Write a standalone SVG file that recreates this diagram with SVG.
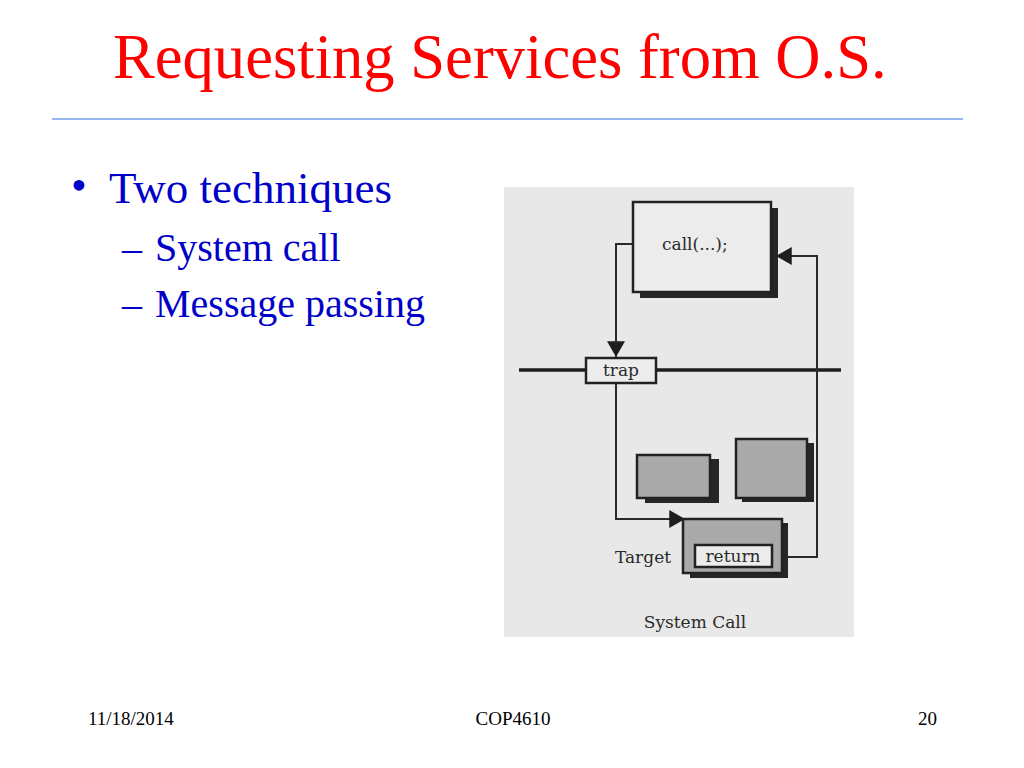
<svg xmlns="http://www.w3.org/2000/svg" width="1024" height="768" viewBox="0 0 1024 768">
<style>
.title{font-family:"Liberation Serif","Times New Roman",serif;font-size:62.6px;fill:#ff0000}
.b1{font-family:"Liberation Serif","Times New Roman",serif;font-size:45px;fill:#0000c8}
.b2{font-family:"Liberation Serif","Times New Roman",serif;font-size:40px;fill:#0000c8}
.foot{font-family:"Liberation Serif","Times New Roman",serif;font-size:19px;fill:#000}
.lbl{font-family:"DejaVu Serif","Liberation Serif",serif;font-size:17px;fill:#2a2a2a}
.box{fill:#ececec;stroke:#222;stroke-width:2.5}
.gbox{fill:#a9a9a9;stroke:#222;stroke-width:2.5}
.shadow{fill:#262626}
.conn{fill:none;stroke:#2a2a2a;stroke-width:2}
</style>
<defs>
<marker id="arr" markerUnits="userSpaceOnUse" markerWidth="16" markerHeight="18" refX="14" refY="8" orient="auto" viewBox="0 0 14 16">
<path d="M0,0 L14,8 L0,16 z" fill="#1e1e1e"/>
</marker>
</defs>
<rect width="1024" height="768" fill="#ffffff"/>
<text class="title" x="113" y="78">Requesting Services from O.S.</text>
<line x1="52" y1="119" x2="963" y2="119" stroke="#6f9fe8" stroke-width="1.5"/>
<text class="b1" x="71" y="200" font-size="34">•</text>
<text class="b1" x="109" y="203">Two techniques</text>
<text class="b2" x="122" y="261">–</text>
<text class="b2" x="155" y="261">System call</text>
<text class="b2" x="122" y="317">–</text>
<text class="b2" x="155" y="317">Message passing</text>
<text class="foot" x="88" y="725">11/18/2014</text>
<text class="foot" x="513" y="725" text-anchor="middle">COP4610</text>
<text class="foot" x="937" y="725" text-anchor="end">20</text>

<g id="scan">
<rect x="504" y="187" width="350" height="450" fill="#e8e8e8"/>
</g>
<g id="boundary">
<line x1="519" y1="370" x2="841" y2="370" stroke="#1e1e1e" stroke-width="3.5"/>
</g>
<g id="connectors">
<path class="conn" d="M653,244 H616 V357" marker-end="url(#arr)"/>
<path class="conn" d="M616,383 V519 H685" marker-end="url(#arr)"/>
<path class="conn" d="M772,557 H817 V256 H776" marker-end="url(#arr)"/>
</g>
<g id="callbox">
<rect class="shadow" x="640" y="208" width="138" height="90"/>
<rect class="box" x="633" y="202" width="138" height="90"/>
<text class="lbl" x="662" y="250">call(...);</text>
</g>
<g id="trap">
<rect class="box" x="586" y="358" width="70" height="25" stroke-width="2"/>
<text class="lbl" x="621" y="376" text-anchor="middle">trap</text>
</g>
<g id="box1">
<rect class="shadow" x="645" y="459" width="74" height="44"/>
<rect class="gbox" x="637" y="455" width="73" height="43"/>
</g>
<g id="box2">
<rect class="shadow" x="742" y="443" width="72" height="59"/>
<rect class="gbox" x="736" y="439" width="71" height="59"/>
</g>
<g id="target">
<rect class="shadow" x="690" y="523" width="98" height="55"/>
<rect class="gbox" x="683" y="519" width="99" height="54"/>
<rect class="box" x="695" y="545" width="77" height="22" stroke-width="2"/>
<text class="lbl" x="733" y="562" text-anchor="middle">return</text>
<text class="lbl" x="643" y="563" text-anchor="middle">Target</text>
</g>
<text class="lbl" x="695" y="628" text-anchor="middle" font-size="19">System Call</text>
</svg>
